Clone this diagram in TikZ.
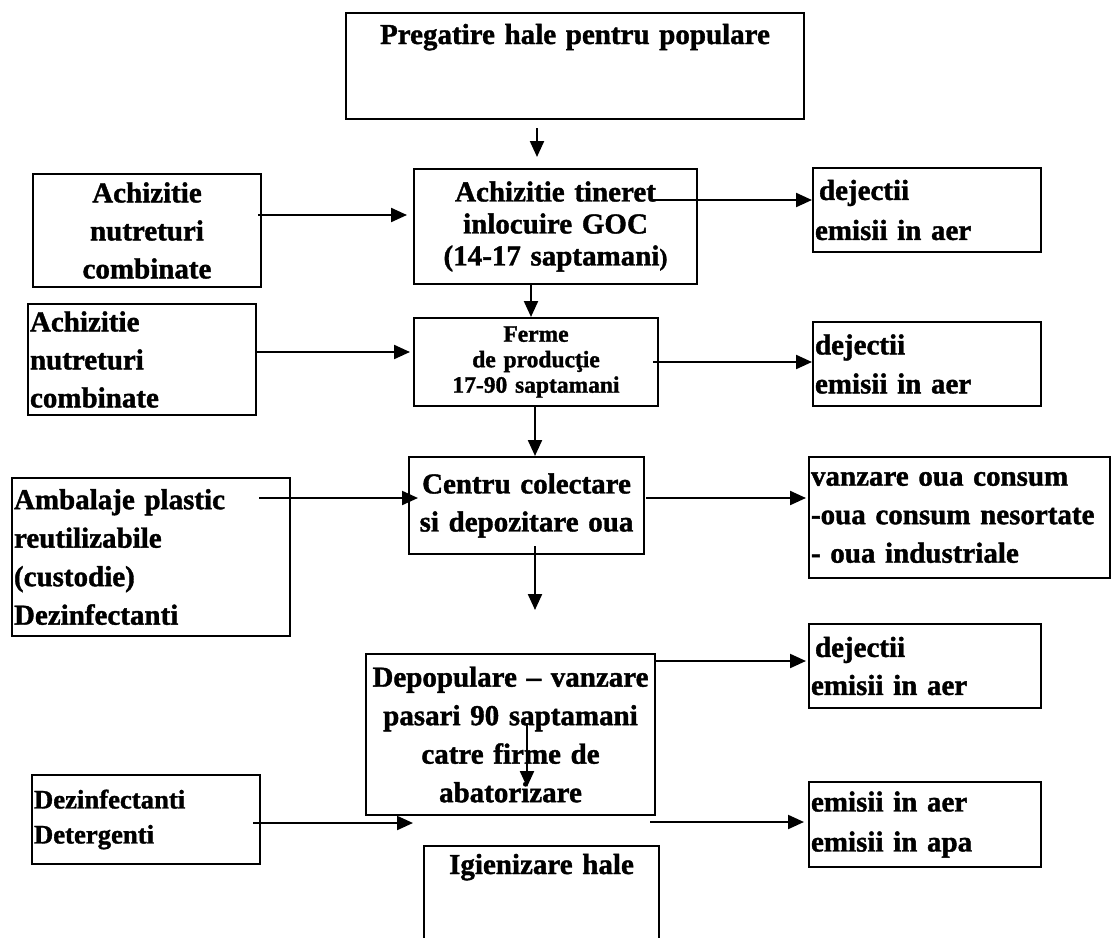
\documentclass[tikz,border=0pt]{standalone}
\usepackage{fontspec}
\setmainfont{Liberation Serif}[BoldFeatures={FakeBold=1.3}]
\usetikzlibrary{arrows.meta}

\begin{document}
\begin{tikzpicture}[x=1pt, y=-1pt,
    box/.style = {draw, line width=2pt, anchor=north west, inner ysep=0pt, inner xsep=5pt, font=\fontsize{29}{38}\selectfont\bfseries},
    cbox/.style = {box, align=center},
    lbox/.style = {box, inner xsep=2pt, align=left},
    link/.style = {line width=2.2pt, -{Triangle[length=16pt,width=14pt]}}]
        \clip (0,0) rectangle (1111,937);

        \node[cbox, minimum width=458pt, minimum height=106pt, text width=448pt, text height=31pt, text depth=75pt] (prep) at (345,12) {Pregatire hale pentru populare};
        \node[cbox, minimum width=228pt, minimum height=113pt, text width=218pt] (feed1) at (32,173) {Achizitie\\nutreturi\\combinate};
        \node[cbox, minimum width=283pt, minimum height=115pt, text width=273pt, font=\fontsize{29}{32}\selectfont\bfseries] (young) at (413,168) {Achizitie tineret\\inlocuire GOC\\(14-17 saptamani{\fontsize{24}{24}\selectfont)}};
        \node[lbox, minimum width=228pt, minimum height=84pt, text width=224pt, font=\fontsize{29}{40}\selectfont\bfseries] (waste1) at (812,167) {\hspace*{4pt}dejectii\\emisii in aer};
        \node[lbox, minimum width=228pt, minimum height=111pt, text width=224pt] (feed2) at (27,303) {Achizitie\\nutreturi\\combinate};
        \node[cbox, minimum width=244pt, minimum height=88pt, text width=234pt, font=\fontsize{23.5}{25.5}\selectfont\bfseries] (farm) at (413,317) {Ferme\\de producţie\\17-90 saptamani};
        \node[lbox, minimum width=228pt, minimum height=84pt, text width=224pt, font=\fontsize{29}{39}\selectfont\bfseries] (waste2) at (812,321) {dejectii\\emisii in aer};
        \node[lbox, minimum width=278pt, minimum height=158pt, text width=274pt, font=\fontsize{29}{38.5}\selectfont\bfseries] (pack) at (11,477) {Ambalaje plastic\\reutilizabile\\(custodie)\\Dezinfectanti};
        \node[cbox, minimum width=235pt, minimum height=97pt, text width=225pt] (store) at (408,456) {Centru colectare\\si depozitare oua};
        \node[lbox, minimum width=301pt, minimum height=121pt, text width=297pt, font=\fontsize{29}{38.5}\selectfont\bfseries] (sale) at (808,456) {vanzare oua consum\\-oua consum nesortate\\- oua industriale};
        \node[cbox, minimum width=289pt, minimum height=161pt, text width=279pt, font=\fontsize{29}{38.5}\selectfont\bfseries] (depop) at (365,653) {Depopulare – vanzare\\pasari 90 saptamani\\catre firme de\\abatorizare};
        \node[lbox, minimum width=232pt, minimum height=84pt, text width=228pt] (waste3) at (808,623) {\hspace*{4pt}dejectii\\emisii in aer};
        \node[lbox, minimum width=228pt, minimum height=89pt, text width=224pt, font=\fontsize{26.7}{35}\selectfont\bfseries] (clean) at (31,774) {Dezinfectanti\\Detergenti};
        \node[lbox, minimum width=232pt, minimum height=85pt, text width=228pt, font=\fontsize{29}{40}\selectfont\bfseries] (emis) at (808,781) {emisii in aer\\emisii in apa};
        \node[cbox, minimum width=235pt, minimum height=130pt, text width=225pt, text height=28pt, text depth=102pt] (hyg) at (423,845) {Igienizare hale};

        % free ends of the arrows
        \coordinate (prepout) at (537,128);   \coordinate (youngin) at (537,157);
        \coordinate (feed1out) at (258,215);  \coordinate (feed1in) at (407,215);
        \coordinate (youngout) at (650,200);  \coordinate (waste1in) at (812,200);
        \coordinate (youngdown) at (531,283); \coordinate (farmin) at (531,317);
        \coordinate (feed2out) at (255,352);  \coordinate (feed2in) at (410,352);
        \coordinate (farmout) at (653,362);   \coordinate (waste2in) at (812,362);
        \coordinate (farmdown) at (535,405);  \coordinate (storein) at (535,456);
        \coordinate (packout) at (259,498);   \coordinate (packin) at (418,498);
        \coordinate (storeout) at (646,498);  \coordinate (salein) at (806,498);
        \coordinate (storedown) at (535,546); \coordinate (depopin) at (535,610);
        \coordinate (depoptop) at (527,723);  \coordinate (depopbot) at (527,787);
        \coordinate (depopout) at (654,661);  \coordinate (waste3in) at (806,661);
        \coordinate (cleanout) at (253,823);  \coordinate (cleanin) at (413,823);
        \coordinate (hygout) at (650,822);    \coordinate (emisin) at (804,822);

        \draw[link] (prepout) -- (youngin);
        \draw[link] (feed1out) -- (feed1in);
        \draw[link] (youngout) -- (waste1in);
        \draw[link] (youngdown) -- (farmin);
        \draw[link] (feed2out) -- (feed2in);
        \draw[link] (farmout) -- (waste2in);
        \draw[link] (farmdown) -- (storein);
        \draw[link] (packout) -- (packin);
        \draw[link] (storeout) -- (salein);
        \draw[link] (storedown) -- (depopin);
        \draw[link] (depoptop) -- (depopbot);
        \draw[link] (depopout) -- (waste3in);
        \draw[link] (cleanout) -- (cleanin);
        \draw[link] (hygout) -- (emisin);
    \end{tikzpicture}
\end{document}
